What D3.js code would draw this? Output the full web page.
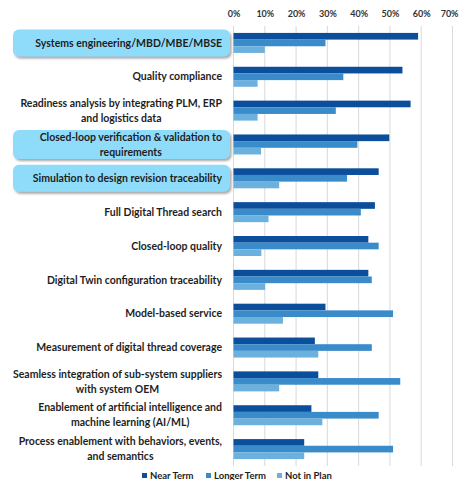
<!DOCTYPE html>
<html><head><meta charset="utf-8">
<script src="https://cdn.jsdelivr.net/npm/d3@7"></script>
<style>
html,body{margin:0;padding:0;background:#fff;}
svg{display:block;}
text{font-family:Lato,"Open Sans",sans-serif;font-weight:700;}
</style></head>
<body>
<script>
const categories = [
  "Systems engineering/MBD/MBE/MBSE",
  "Quality compliance",
  "Readiness analysis by integrating PLM, ERP\nand logistics data",
  "Closed-loop verification & validation to\nrequirements",
  "Simulation to design revision traceability",
  "Full Digital Thread search",
  "Closed-loop quality",
  "Digital Twin configuration traceability",
  "Model-based service",
  "Measurement of digital thread coverage",
  "Seamless integration of sub-system suppliers\nwith system OEM",
  "Enablement of artificial intelligence and\nmachine learning (AI/ML)",
  "Process enablement with behaviors, events,\nand semantics"
];
const highlighted = [0, 3, 4];
const seriesNames = ["Near Term", "Longer Term", "Not in Plan"];
const nearTerm   = [0.59, 0.54, 0.566, 0.498, 0.464, 0.452, 0.431, 0.431, 0.294, 0.26, 0.271, 0.249, 0.226];
const longerTerm = [0.294, 0.351, 0.327, 0.396, 0.363, 0.407, 0.464, 0.442, 0.51, 0.442, 0.533, 0.464, 0.51];
const notInPlan  = [0.10, 0.077, 0.077, 0.088, 0.146, 0.112, 0.089, 0.101, 0.158, 0.271, 0.146, 0.284, 0.226];
const tickValues = [0, 0.1, 0.2, 0.3, 0.4, 0.5, 0.6, 0.7];

const W = 459, H = 480;
const colors = ["#0b4e9b", "#3a8bc9", "#6cb0de"];
const series = [nearTerm, longerTerm, notInPlan];

const svg = d3.select("body").append("svg").attr("width", W).attr("height", H);

const defs = svg.append("defs");
const f = defs.append("filter").attr("id","sh").attr("x","-10%").attr("y","-30%").attr("width","120%").attr("height","180%");
f.append("feDropShadow").attr("dx",1.5).attr("dy",2).attr("stdDeviation",1.3).attr("flood-color","#6b6b6b").attr("flood-opacity",0.6);

const x = d3.scaleLinear().domain([0, 0.7]).range([233.5, 452.5]);
const y = d3.scaleBand().domain(d3.range(categories.length)).range([26, 466]).paddingInner(0).paddingOuter(0);
const inner = d3.scaleBand().domain(d3.range(3)).range([0, 20]);
const bandOff = (y.bandwidth() - 20) / 2;

// gridlines + tick labels via axis
const axis = d3.axisTop(x).tickValues(tickValues).tickFormat(d3.format(".0%")).tickSize(0).tickPadding(0);
const gAx = svg.append("g").attr("transform", "translate(0,17)").call(axis);
gAx.select(".domain").remove();
gAx.selectAll("text").attr("font-size", 9).attr("fill", "#333").attr("dy", 0);
gAx.selectAll(".tick").filter(d => d === 0.7).select("text")
  .attr("text-anchor", "end").attr("x", 458 - x(0.7));

svg.append("g").selectAll("line").data(tickValues).join("line")
  .attr("x1", d => x(d)).attr("x2", d => x(d))
  .attr("y1", 26).attr("y2", 466)
  .attr("stroke", "#d9d9d9").attr("stroke-width", 1);

// highlight boxes
svg.append("g").selectAll("rect").data(highlighted).join("rect")
  .attr("x", 13).attr("width", 217)
  .attr("y", i => y(i) + y.bandwidth()/2 - (categories[i].includes("\n") ? 14.5 : 13.5))
  .attr("height", i => categories[i].includes("\n") ? 29 : 27)
  .attr("rx", 6).attr("ry", 6)
  .attr("fill", "#8fdcfa").attr("filter", "url(#sh)");

// labels
const lg = svg.append("g");
categories.forEach((c, i) => {
  const lines = c.split("\n");
  const cy = y(i) + y.bandwidth()/2;
  const t = lg.append("text").attr("font-size", 10.5).attr("fill", "#1e1e1e");
  lines.forEach((ln, k) => {
    t.append("tspan")
      .attr("x", 222)
      .attr("text-anchor", lines.length > 1 && k === 1 ? "middle" : "end")
      .attr("y", cy + (k - (lines.length - 1) / 2) * 15)
      .attr("dy", "0.35em")
      .text(ln);
  });
});
// center second lines under first lines
lg.selectAll("text").each(function() {
  const ts = d3.select(this).selectAll("tspan").nodes();
  if (ts.length > 1) {
    const w0 = ts[0].getComputedTextLength();
    d3.select(ts[1]).attr("x", 222 - w0 / 2);
  }
});

// bars
series.forEach((vals, s) => {
  svg.append("g").selectAll("rect").data(vals).join("rect")
    .attr("x", x(0))
    .attr("y", (d, i) => y(i) + bandOff + inner(s))
    .attr("width", d => x(d) - x(0))
    .attr("height", inner.bandwidth())
    .attr("fill", colors[s]);
});

// legend
const legX = [142, 206, 277];
const leg = svg.append("g");
seriesNames.forEach((n, s) => {
  leg.append("rect").attr("x", legX[s]).attr("y", 473).attr("width", 5).attr("height", 5).attr("fill", colors[s]);
  leg.append("text").attr("x", legX[s] + 8).attr("y", 476).attr("dy", "0.35em")
    .attr("font-size", 9.5).attr("fill", "#1e1e1e").text(n);
});
</script>
</body></html>
